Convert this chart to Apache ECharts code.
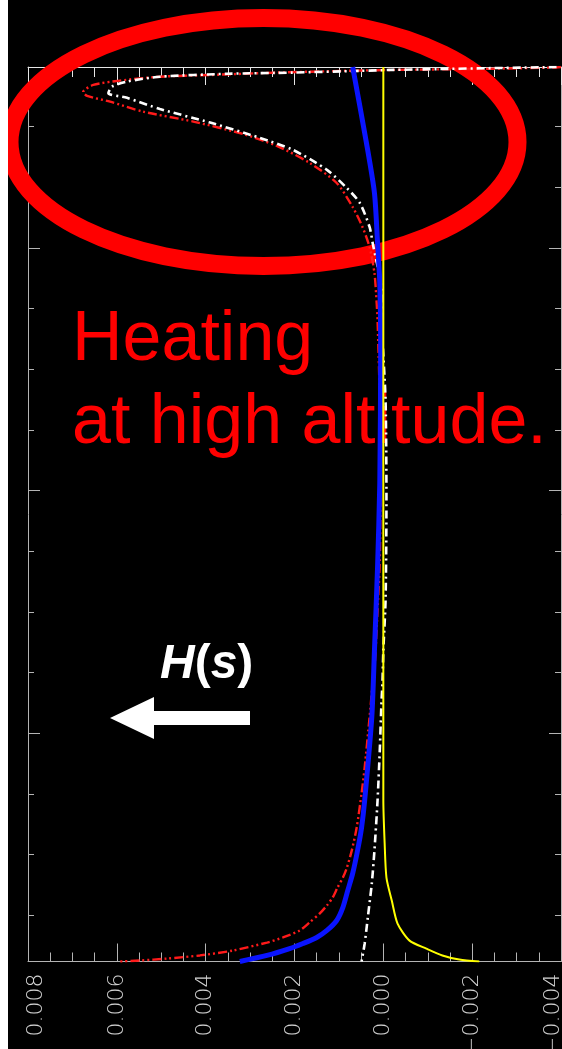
<!DOCTYPE html>
<html>
<head>
<meta charset="utf-8">
<script src="https://cdn.jsdelivr.net/npm/echarts@6/dist/echarts.min.js"></script>
<style>
  html, body { margin: 0; padding: 0; background: #000; }
  #chart { width: 562px; height: 1049px; }
</style>
</head>
<body>
<div id="chart"></div>
<script>
// Heating rate H(s) plotted horizontally (increasing to the left) against
// position s along the loop (vertical axis).

// horizontal axis (heating rate)
const H_MIN = -0.004;
const H_MAX = 0.008;
const H_STEP = 0.002;

// vertical axis (position along the loop)
const S_MIN = 0.6;
const S_MAX = 37.46;
const sMinorTicks = [2.5, 5, 7.5, 12.5, 15, 17.5, 22.5, 25, 27.5, 32.5, 35];
const sMajorTicks = [10, 20, 30];

// red dash-dot profile
const sRed = [37.46, 37.44, 37.38, 37.34, 37.30, 37.23, 37.13, 37.06, 36.90, 36.72, 36.43, 36.27, 36.03, 35.62, 35.21, 34.70, 34.21, 33.51, 32.68, 31.69, 30.87, 30.04, 28.97, 27.73, 27.03, 23.73, 20.43, 17.13, 15.07, 12.60, 12.06, 10.66, 8.60, 7.53, 6.12, 5.18, 4.47, 4.06, 3.65, 3.24, 2.91, 2.58, 2.21, 1.88, 1.59, 1.38, 1.05, 0.85, 0.72, 0.64, 0.60];
const hRed = [-0.0040, -0.00389, -0.00216, -0.00021, 0.00091, 0.00240, 0.00390, 0.00503, 0.00593, 0.00653, 0.00676, 0.00667, 0.00615, 0.00541, 0.00428, 0.00316, 0.00240, 0.00166, 0.00105, 0.00069, 0.00047, 0.00031, 0.00020, 0.00015, 0.00013, 0.00008, 0.00006, 0.00008, 0.00013, 0.00020, 0.00024, 0.00031, 0.00042, 0.00049, 0.00060, 0.00071, 0.00082, 0.00091, 0.00103, 0.00114, 0.00127, 0.00143, 0.00166, 0.00188, 0.00226, 0.00262, 0.00339, 0.00413, 0.00487, 0.00548, 0.00593];

// white dash-dot profile
const sWhite = [37.46, 37.34, 37.30, 37.23, 37.18, 37.06, 36.86, 36.65, 36.38, 36.19, 35.73, 35.17, 34.54, 34.04, 33.22, 32.47, 31.86, 30.87, 30.21, 28.27, 26.33, 23.73, 19.6, 15.48, 13.42, 12.06, 11.36, 9.30, 7.24, 5.18, 3.81, 2.41, 1.34, 0.60];
const hWhite = [-0.0039, -0.00021, 0.00053, 0.00203, 0.00352, 0.00503, 0.00577, 0.00611, 0.00619, 0.00577, 0.00503, 0.00390, 0.00278, 0.00203, 0.00127, 0.00082, 0.00053, 0.00031, 0.00024, 0.00004, 0.00002, -0.00005, -0.00007, -0.00005, 0.0, 0.00002, 0.00004, 0.00008, 0.00013, 0.00020, 0.00026, 0.00035, 0.00042, 0.00049];

// blue solid profile
const sBlue = [37.46, 34.33, 32.27, 30.21, 28.56, 25.79, 20.31, 16.85, 13.42, 10.66, 7.24, 6.12, 5.18, 4.23, 3.53, 2.83, 2.29, 1.88, 1.59, 1.34, 1.13, 0.85, 0.60];
const hBlue = [0.00069, 0.00038, 0.00020, 0.00013, 0.00008, 0.00006, 0.00008, 0.00013, 0.00020, 0.00026, 0.00042, 0.00049, 0.00058, 0.00069, 0.00080, 0.00091, 0.00105, 0.00127, 0.00150, 0.00181, 0.00211, 0.00262, 0.00323];

// yellow solid profile
const sYellow = [37.46, 7.24, 5.46, 4.06, 3.11, 2.16, 1.46, 1.13, 0.85, 0.68, 0.60];
const hYellow = [0, 0, -0.00003, -0.00007, -0.00019, -0.00032, -0.00059, -0.00097, -0.00133, -0.00171, -0.00216];

const AXIS = '#b4b4b4';
const AXIS_TOP = '#e6e6e6';
const SANS = '"Liberation Sans", Arial, sans-serif';

function pairs(h, s) {
  return h.map((v, i) => [v, s[i]]);
}

// tick labels; the two end labels are nudged inward so they stay on the page
function hLabel(v) {
  const t = Math.abs(v).toFixed(3);
  const txt = v < -1e-12 ? '\u2212' + t : t;
  if (Math.abs(v - H_MAX) < 1e-9) return '{lo|' + txt + '}';
  if (Math.abs(v - H_MIN) < 1e-9) return '{hi|' + txt + '}';
  return '{n|' + txt + '}';
}

const labelFont = { fontFamily: '"DejaVu Sans", sans-serif', fontSize: 22, fontWeight: 200, color: '#d4d4d4' };

const xBase = {
  type: 'value', inverse: true, min: H_MIN, max: H_MAX, interval: H_STEP,
  splitLine: { show: false }
};

const yBase = {
  type: 'value', min: S_MIN, max: S_MAX,
  splitLine: { show: false }, axisLabel: { show: false }
};

function yAxisDef(position, ticks, len, showLine) {
  return Object.assign({}, yBase, {
    position: position,
    axisLine: { show: showLine, onZero: false, lineStyle: { color: AXIS, width: 1 } },
    axisTick: { show: true, inside: true, length: len, customValues: ticks, lineStyle: { color: AXIS, width: 1 } }
  });
}

function lineSeries(name, h, s, z, lineStyle) {
  return {
    type: 'line', name: name, xAxisIndex: 0, yAxisIndex: 0, z: z,
    data: pairs(h, s), showSymbol: false, smooth: 0.25,
    lineStyle: lineStyle
  };
}

const chart = echarts.init(document.getElementById('chart'), null, { renderer: 'canvas' });

chart.setOption({
  backgroundColor: '#000',
  animation: false,
  grid: { left: 28, right: 1, top: 67, bottom: 87.5, containLabel: false, outerBoundsMode: 'none' },
  xAxis: [
    Object.assign({}, xBase, {
      position: 'bottom',
      axisLine: { show: true, onZero: false, lineStyle: { color: AXIS, width: 1 } },
      axisTick: { show: true, inside: true, length: 18, lineStyle: { color: AXIS, width: 1 } },
      minorTick: { show: true, splitNumber: 4, length: 9, lineStyle: { color: AXIS, width: 1 } },
      axisLabel: {
        show: true, rotate: 90, margin: 12, formatter: hLabel,
        rich: {
          n: Object.assign({}, labelFont),
          lo: Object.assign({ padding: [17, 0, 0, 0] }, labelFont),
          hi: Object.assign({ padding: [0, 0, 15, 0] }, labelFont)
        }
      }
    }),
    Object.assign({}, xBase, {
      position: 'top',
      axisLine: { show: true, onZero: false, lineStyle: { color: AXIS_TOP, width: 1 } },
      axisTick: { show: true, inside: true, length: 18, lineStyle: { color: AXIS_TOP, width: 1 } },
      minorTick: { show: true, splitNumber: 4, length: 10, lineStyle: { color: AXIS_TOP, width: 1 } },
      axisLabel: { show: false }
    })
  ],
  yAxis: [
    yAxisDef('left', sMinorTicks, 6, true),
    yAxisDef('left', sMajorTicks, 12, false),
    yAxisDef('right', sMinorTicks, 6, true),
    yAxisDef('right', sMajorTicks, 12, false)
  ],
  series: [
    lineSeries('red', hRed, sRed, 3, { color: '#ff1a1a', width: 2.4, type: [9, 3, 2, 3, 2, 3] }),
    lineSeries('white', hWhite, sWhite, 3, { color: '#ffffff', width: 2.6, type: [8, 4, 2, 4] }),
    lineSeries('blue', hBlue, sBlue, 4, { color: '#0a14ff', width: 5 }),
    lineSeries('yellow', hYellow, sYellow, 5, { color: '#ffff00', width: 2 })
  ],
  graphic: [
    { type: 'rect', z: 10, shape: { x: 0, y: 0, width: 8, height: 1049 }, style: { fill: '#ffffff' } },
    {
      type: 'ellipse', z: 1,
      shape: { cx: 263.5, cy: 142, rx: 254, ry: 124 },
      style: { fill: null, stroke: '#ff0000', lineWidth: 18 }
    },
    {
      type: 'text', z: 1, x: 72, y: 341,
      style: { text: 'Heating', fill: '#ff0000', fontSize: 70, fontFamily: SANS, verticalAlign: 'middle', align: 'left' }
    },
    {
      type: 'text', z: 1, x: 72, y: 424,
      style: { text: 'at high altitude.', fill: '#ff0000', fontSize: 70, fontFamily: SANS, verticalAlign: 'middle', align: 'left' }
    },
    {
      type: 'text', z: 10, x: 160, y: 665,
      style: {
        text: '{i|H}{n|(}{i|s}{n|)}', verticalAlign: 'middle', align: 'left',
        rich: {
          i: { fill: '#ffffff', fontSize: 48, fontWeight: 'bold', fontStyle: 'italic', fontFamily: SANS },
          n: { fill: '#ffffff', fontSize: 48, fontWeight: 'bold', fontFamily: SANS }
        }
      }
    },
    {
      type: 'polygon', z: 10,
      shape: { points: [[110, 718], [154, 697], [154, 711], [250, 711], [250, 725], [154, 725], [154, 739]] },
      style: { fill: '#ffffff' }
    }
  ]
});
</script>
</body>
</html>
